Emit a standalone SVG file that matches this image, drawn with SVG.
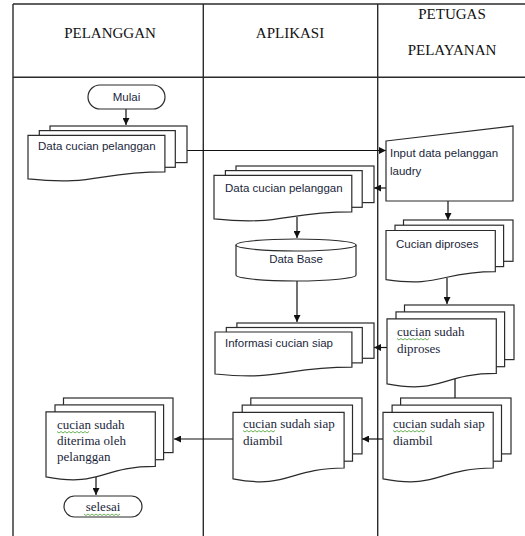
<svg xmlns="http://www.w3.org/2000/svg" width="525" height="536" viewBox="0 0 525 536">
<style>
.bg{fill:#fff}
.grid{stroke:#2b2b2b;stroke-width:1.4;fill:none}
.sh{fill:#fff;stroke:#2b2b2b;stroke-width:1.2}
.cn{stroke:#111;stroke-width:1.2;fill:none}
.hd{font-family:"Liberation Serif","Times New Roman",serif;font-size:15px;fill:#111;text-anchor:middle}
.sa{font-family:"Liberation Sans",Arial,sans-serif;font-size:11.5px;fill:#1b1f3b}
.se{font-family:"Liberation Serif","Times New Roman",serif;font-size:13px;fill:#1b1f3b}
.sq{stroke:#5aa845;stroke-width:0.9;fill:none}
</style>
<defs>
<marker id="ah" viewBox="0 0 10 10" refX="10" refY="5" markerWidth="7" markerHeight="7" markerUnits="userSpaceOnUse" orient="auto">
<path d="M0,0 L10,5 L0,10 Z" fill="#111"/>
</marker>
</defs>
<rect class="bg" x="0" y="0" width="525" height="536"/>
<g id="swimlanes">
<path class="grid" d="M13,4 H525 M13,77.3 H525 M13,4 V536 M203.3,4 V536 M377.7,4 V536"/>
<text class="hd" x="110" y="38">PELANGGAN</text>
<text class="hd" x="290" y="38">APLIKASI</text>
<text class="hd" x="452" y="19">PETUGAS</text>
<text class="hd" x="452" y="55">PELAYANAN</text>
</g>
<g id="connectors">
<path class="cn" d="M126,109 V125" marker-end="url(#ah)"/>
<path class="cn" d="M187,150.5 H386" marker-end="url(#ah)"/>
<path class="cn" d="M386,188 H374" marker-end="url(#ah)"/>
<path class="cn" d="M297,217 V238" marker-end="url(#ah)"/>
<path class="cn" d="M297,281 V322" marker-end="url(#ah)"/>
<path class="cn" d="M448,201 V220" marker-end="url(#ah)"/>
<path class="cn" d="M447,278 V304" marker-end="url(#ah)"/>
<path class="cn" d="M387,347.5 H374" marker-end="url(#ah)"/>
<path class="cn" d="M455,377 V405" marker-end="url(#ah)"/>
<path class="cn" d="M383,439 H362" marker-end="url(#ah)"/>
<path class="cn" d="M233,439 H174" marker-end="url(#ah)"/>
<path class="cn" d="M96,476 V495" marker-end="url(#ah)"/>
</g>
<g id="mulai">
<rect class="sh" x="88" y="85" width="77" height="24" rx="12" ry="12"/>
<text class="sa" x="126.5" y="101" text-anchor="middle">Mulai</text>
</g>
<g id="doc-pelanggan">
<rect class="sh" x="50" y="126" width="137" height="36.6"/>
<rect class="sh" x="39.3" y="130.6" width="136" height="36.7"/>
<path class="sh" d="M28,135.4 H164.9 V171.9 C96.4,171.9 96.4,186 28,178.9 Z"/>
<text class="sa" x="38" y="150">Data cucian pelanggan</text>
</g>
<g id="input-data">
<path class="sh" d="M386,141 L513,126 L513,201 L386,201 Z"/>
<text class="sa" x="390" y="157">Input data pelanggan</text>
<text class="sa" x="390" y="175">laudry</text>
</g>
<g id="doc-aplikasi">
<rect class="sh" x="236" y="166" width="138" height="36.6"/>
<rect class="sh" x="225.4" y="170.6" width="136.8" height="36.7"/>
<path class="sh" d="M214,175.4 H351.8 V211.9 C282.9,211.9 282.9,226 214,218.9 Z"/>
<text class="sa" x="225" y="192">Data cucian pelanggan</text>
</g>
<g id="database">
<path class="sh" d="M236,245 V275 A60,6 0 0 0 356,275 V245 A60,6 0 0 0 236,245 Z"/>
<path class="sh" d="M236,245 A60,6 0 0 0 356,245" fill="none"/>
<text class="sa" x="296" y="263" text-anchor="middle">Data Base</text>
</g>
<g id="informasi">
<rect class="sh" x="236.9" y="323" width="137.1" height="35.3"/>
<rect class="sh" x="226.3" y="327.5" width="136" height="35.4"/>
<path class="sh" d="M215,332 H351.9 V367.2 C283.4,367.2 283.4,380.8 215,374 Z"/>
<text class="sa" x="225" y="347">Informasi cucian siap</text>
</g>
<g id="cucian-diproses">
<rect class="sh" x="403.5" y="220" width="109.5" height="41.3"/>
<rect class="sh" x="395" y="225.2" width="108.6" height="41.4"/>
<path class="sh" d="M386,230.5 H495.3 V271.7 C440.7,271.7 440.7,287.6 386,279.6 Z"/>
<text class="sa" x="396" y="248">Cucian diproses</text>
</g>
<g id="sudah-diproses">
<rect class="sh" x="404.5" y="305" width="109.5" height="54.6"/>
<rect class="sh" x="396" y="311.9" width="108.6" height="54.8"/>
<path class="sh" d="M387,318.9 H496.3 V373.4 C441.7,373.4 441.7,394.4 387,383.9 Z"/>
<text class="se" x="397" y="335.5">cucian sudah</text>
<text class="se" x="397" y="352.5">diproses</text>
<path class="sq" d="M397,338.5 l2,1.5 l2,-1.5 l2,1.5 l2,-1.5 l2,1.5 l2,-1.5 l2,1.5 l2,-1.5 l2,1.5 l2,-1.5 l2,1.5 l2,-1.5 l2,1.5 l2,-1.5 l2,1.5 l2,-1.5"/>
</g>
<g id="siap-petugas">
<rect class="sh" x="400.6" y="398" width="110.4" height="55.9"/>
<rect class="sh" x="392.1" y="405.1" width="109.4" height="56.1"/>
<path class="sh" d="M383,412.3 H493.2 V468 C438.1,468 438.1,489.6 383,478.8 Z"/>
<text class="se" x="393" y="427.5">cucian sudah siap</text>
<text class="se" x="393" y="444.5">diambil</text>
<path class="sq" d="M393,430.5 l2,1.5 l2,-1.5 l2,1.5 l2,-1.5 l2,1.5 l2,-1.5 l2,1.5 l2,-1.5 l2,1.5 l2,-1.5 l2,1.5 l2,-1.5 l2,1.5 l2,-1.5 l2,1.5 l2,-1.5"/>
</g>
<g id="siap-aplikasi">
<rect class="sh" x="250.8" y="398" width="111.2" height="55.9"/>
<rect class="sh" x="242.2" y="405.1" width="110.3" height="56.1"/>
<path class="sh" d="M233,412.3 H344.1 V468 C288.5,468 288.5,489.6 233,478.8 Z"/>
<text class="se" x="243" y="427.5">cucian sudah siap</text>
<text class="se" x="243" y="444.5">diambil</text>
<path class="sq" d="M243,430.5 l2,1.5 l2,-1.5 l2,1.5 l2,-1.5 l2,1.5 l2,-1.5 l2,1.5 l2,-1.5 l2,1.5 l2,-1.5 l2,1.5 l2,-1.5 l2,1.5 l2,-1.5 l2,1.5 l2,-1.5"/>
</g>
<g id="diterima">
<rect class="sh" x="63.5" y="398" width="109.5" height="54.6"/>
<rect class="sh" x="55" y="404.9" width="108.6" height="54.8"/>
<path class="sh" d="M46,411.9 H155.3 V466.4 C100.7,466.4 100.7,487.4 46,476.9 Z"/>
<text class="se" x="57" y="428.5">cucian sudah</text>
<text class="se" x="57" y="445">diterima oleh</text>
<text class="se" x="57" y="461">pelanggan</text>
<path class="sq" d="M57,431.5 l2,1.5 l2,-1.5 l2,1.5 l2,-1.5 l2,1.5 l2,-1.5 l2,1.5 l2,-1.5 l2,1.5 l2,-1.5 l2,1.5 l2,-1.5 l2,1.5 l2,-1.5 l2,1.5 l2,-1.5"/>
</g>
<g id="selesai">
<rect class="sh" x="64" y="496" width="78" height="21" rx="10.5" ry="10.5"/>
<text class="se" x="103" y="511" text-anchor="middle">selesai</text>
<path class="sq" d="M84,514 l2,1.5 l2,-1.5 l2,1.5 l2,-1.5 l2,1.5 l2,-1.5 l2,1.5 l2,-1.5 l2,1.5 l2,-1.5 l2,1.5 l2,-1.5 l2,1.5 l2,-1.5 l2,1.5 l2,-1.5 l2,1.5 l2,-1.5"/>
</g>
</svg>
